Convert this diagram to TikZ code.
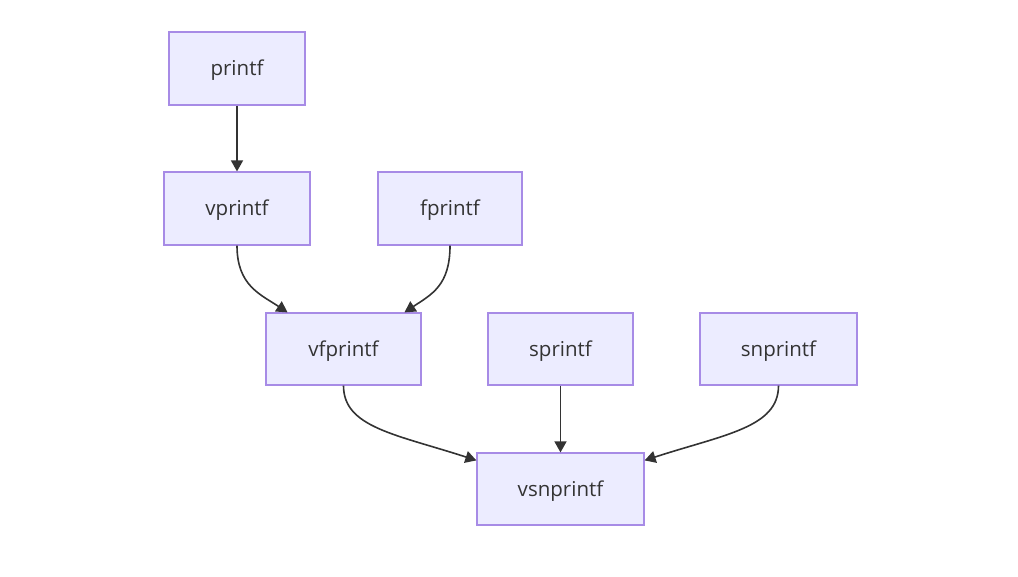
\documentclass[tikz,border=0pt]{standalone}
\usepackage{fontspec}
\setmainfont{Open Sans}
\usetikzlibrary{arrows.meta}
\definecolor{boxfill}{HTML}{ECECFF}
\definecolor{boxline}{HTML}{A78BE6}
\definecolor{edge}{HTML}{333333}
\begin{document}
\begin{tikzpicture}[x=1pt,y=-1pt,
  fbox/.style={draw=boxline,fill=boxfill,line width=1.2pt,minimum height=73pt,
    inner sep=0pt,text=edge,text height=16pt,text depth=1.4pt,font=\fontsize{20.5}{24}\selectfont},
  link/.style={draw=edge,line width=1.6pt,-{Triangle[length=11pt,width=12pt]}}]
\useasboundingbox (0,0) rectangle (1018,576);
\node[fbox,minimum width=136pt] (printf) at (237,68.5) {printf};
\node[fbox,minimum width=146pt] (vprintf) at (237,208.5) {vprintf};
\node[fbox,minimum width=144pt] (fprintf) at (450,208.5) {fprintf};
\node[fbox,minimum width=155pt,minimum height=72pt] (vfprintf) at (343.5,349) {vfprintf};
\node[fbox,minimum width=145pt,minimum height=72pt] (sprintf) at (560.5,349) {sprintf};
\node[fbox,minimum width=157pt,minimum height=72pt] (snprintf) at (778.5,349) {snprintf};
\node[fbox,minimum width=167pt,minimum height=72pt] (vsnprintf) at (560.5,489) {vsnprintf};
\coordinate (e1) at ([xshift=-56pt]vfprintf.north);
\coordinate (e2) at ([xshift=61pt]vfprintf.north);
\coordinate (e3) at ([yshift=-8pt]vsnprintf.north west);
\coordinate (e4) at ([yshift=-8pt]vsnprintf.north east);
\draw[link] (printf) -- (vprintf);
\draw[link] (vprintf.south) .. controls +(0,40) and +(-27,-18) .. (e1);
\draw[link] (fprintf.south) .. controls +(0,40) and +(27,-18) .. (e2);
\draw[link] (sprintf) -- (vsnprintf);
\draw[link] (vfprintf.south) .. controls +(0,42) and +(-80,-26) .. (e3);
\draw[link] (snprintf.south) .. controls +(0,42) and +(80,-26) .. (e4);
\end{tikzpicture}
\end{document}
